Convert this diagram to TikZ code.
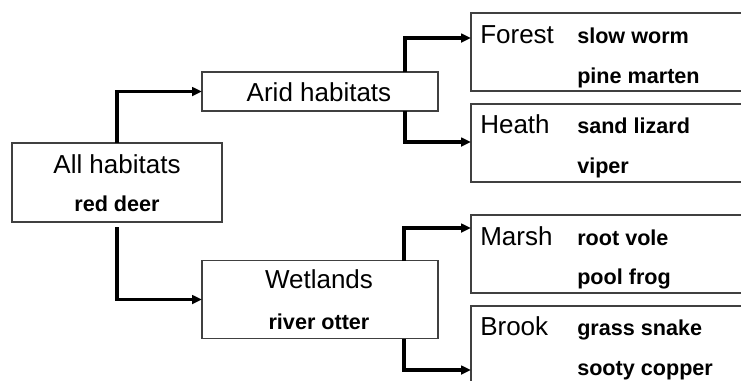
\documentclass[tikz,border=0pt]{standalone}
\usepackage{fontspec}
\setmainfont{Liberation Sans}
\usetikzlibrary{arrows.meta,calc}
\begin{document}
\begin{tikzpicture}[x=0.75pt,y=-0.75pt,
  box/.style={draw=black!75,line width=0.8pt,fill=white,inner sep=0pt,outer sep=0pt},
  midbox/.style={box,minimum width=177pt},
  leafbox/.style={box,anchor=west,minimum width=216.75pt,minimum height=58.5pt},
  title/.style={inner sep=0pt,font=\fontsize{19.5}{22}\selectfont},
  species/.style={inner sep=0pt,anchor=base west,font=\fontsize{16.2}{19}\selectfont\bfseries},
  conn/.style={line width=2.5pt,-{Triangle[length=7.5pt,width=6.5pt]}}]
\useasboundingbox (0,0) rectangle (741,380);
\clip (0,0) rectangle (741,380);

% boxes
\node[box,minimum width=157.5pt,minimum height=59.25pt] (allh) at (117,182.5) {};
\node[midbox,minimum height=29.25pt] (arid) at (320,91.5) {};
\node[midbox,minimum height=58.5pt] (wet) at (320,299.5) {};
\node[leafbox] (forest) at (471,52) {};
\node[leafbox] (heath) at (471,143) {};
\node[leafbox] (marsh) at (471,254) {};
\node[leafbox] (brook) at (471,345) {};

% box texts
\node[title,anchor=base] (allhT) at (117,173.3) {All habitats};
\node[species,anchor=base] (allhS) at (117,211.7) {red deer};
\node[title,anchor=base] (aridT) at (319,101.7) {Arid habitats};
\node[title,anchor=base] (wetT) at (319,288.3) {Wetlands};
\node[species,anchor=base] (wetS) at (319,329.3) {river otter};

\node[title,anchor=base west] (forestT) at (480,43.3) {Forest};
\node[species] (forestA) at (577,43) {slow worm};
\node[species] (forestB) at (577,83) {pine marten};
\node[title,anchor=base west] (heathT) at (480,133.3) {Heath};
\node[species] (heathA) at (577,133.3) {sand lizard};
\node[species] (heathB) at (577,173) {viper};
\node[title,anchor=base west] (marshT) at (480,245) {Marsh};
\node[species] (marshA) at (577,245) {root vole};
\node[species] (marshB) at (577,284.3) {pool frog};
\node[title,anchor=base west] (brookT) at (480,335.7) {Brook};
\node[species] (brookA) at (577,335.7) {grass snake};
\node[species] (brookB) at (577,375) {sooty copper};

% connectors
\draw[conn] (allh.north) |- (arid.west);
\draw[conn] ([yshift=-4pt]allh.south) |- (wet.west);
\draw[conn] ([xshift=-24.75pt]arid.north east) |- (forest.west |- 0,38);
\draw[conn] ([xshift=-24.75pt]arid.south east) |- (heath.west |- 0,142);
\draw[conn] ([xshift=-25.5pt]wet.north east) |- (marsh.west |- 0,228);
\draw[conn] ([xshift=-25.5pt]wet.south east) |- (brook.west |- 0,370);
\end{tikzpicture}
\end{document}
